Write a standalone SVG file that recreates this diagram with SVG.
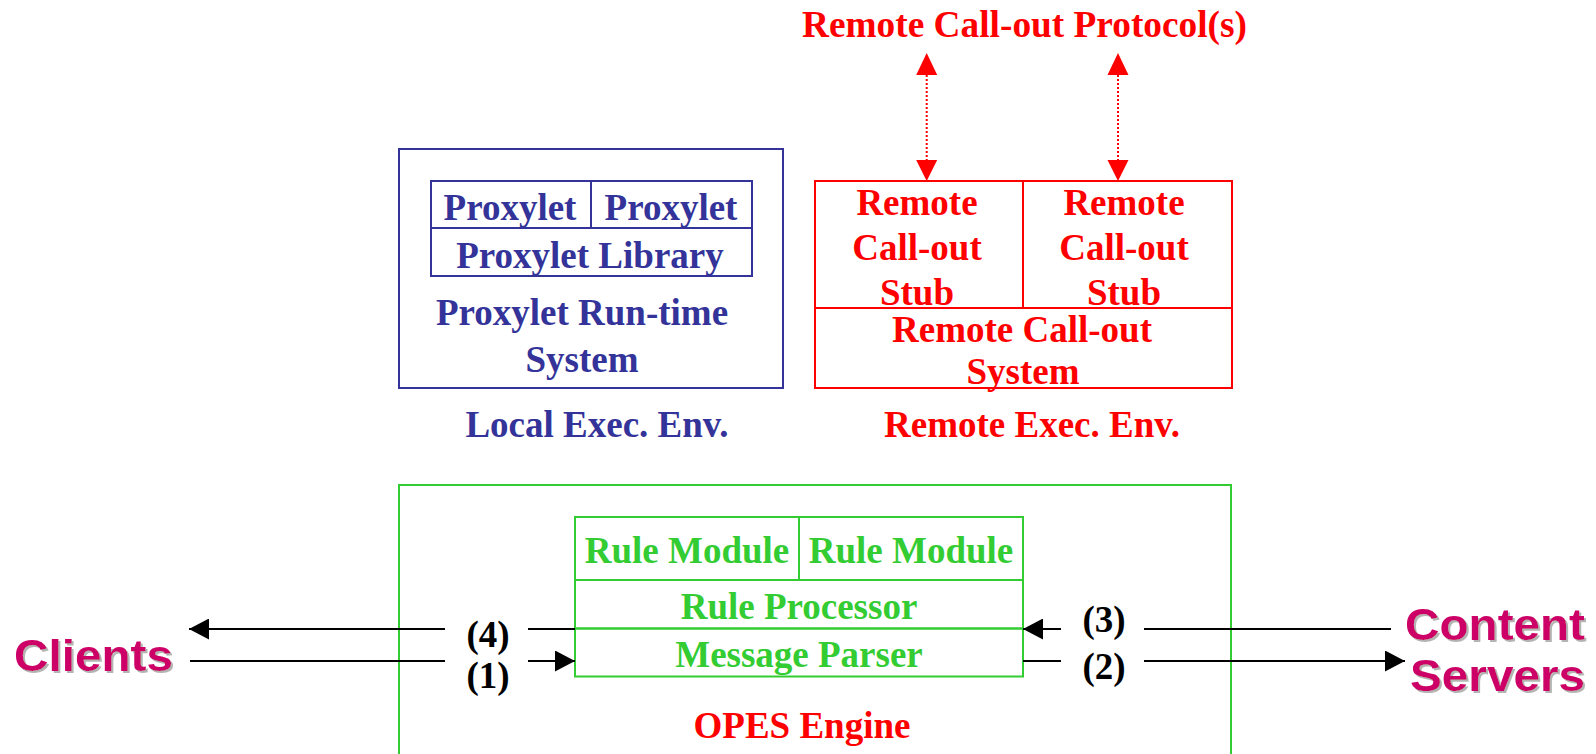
<svg xmlns="http://www.w3.org/2000/svg" width="1596" height="754" viewBox="0 0 1596 754">
<defs>
<style>
.t{font-family:"Liberation Serif","Times New Roman",serif;font-weight:bold;font-size:37px;text-anchor:middle}
.blue{fill:#333399}
.red{fill:#FF0000}
.green{fill:#33CC33}
.blk{fill:#000}
.bb{fill:none;stroke:#333399;stroke-width:2}
.rb{fill:none;stroke:#FF0000;stroke-width:2}
.gb{fill:none;stroke:#33CC33;stroke-width:2}
.ln{stroke:#000;stroke-width:2.2;fill:none}
.dot{stroke:#FF0000;stroke-width:2;stroke-dasharray:2 2;fill:none}
.ext{font-family:"Liberation Sans",Arial,sans-serif;font-weight:bold;font-size:45px;fill:#CC0066;filter:url(#shadow)}
</style>
<filter id="shadow" x="-10%" y="-20%" width="130%" height="150%">
<feOffset in="SourceAlpha" dx="2" dy="2" result="o"/>
<feFlood flood-color="#B4B4B4"/>
<feComposite in2="o" operator="in" result="s"/>
<feMerge><feMergeNode in="s"/><feMergeNode in="SourceGraphic"/></feMerge>
</filter>
<marker id="ah" markerWidth="20" markerHeight="21" refX="20" refY="10.5" orient="auto" markerUnits="userSpaceOnUse">
<path d="M0,0 L20,10.5 L0,21 Z" fill="#000"/>
</marker>
</defs>
<rect width="1596" height="754" fill="#fff"/>

<g id="title">
<text class="t red" x="1024.5" y="37" textLength="445" lengthAdjust="spacingAndGlyphs">Remote Call-out Protocol(s)</text>
</g>

<g id="local-exec-env">
<rect class="bb" x="399" y="149" width="384" height="239"/>
<text class="t blue" x="582" y="325">Proxylet Run-time</text>
<text class="t blue" x="582" y="372">System</text>
<text class="t blue" x="597" y="437">Local Exec. Env.</text>
</g>
<g id="proxylet-library">
<rect class="bb" x="431" y="228" width="321" height="48"/>
<text class="t blue" x="590" y="268">Proxylet Library</text>
</g>
<g id="proxylet-1">
<rect class="bb" x="431" y="181" width="160" height="47"/>
<text class="t blue" x="510" y="220">Proxylet</text>
</g>
<g id="proxylet-2">
<rect class="bb" x="591" y="181" width="161" height="47"/>
<text class="t blue" x="671" y="220">Proxylet</text>
</g>

<g id="remote-exec-env">
<text class="t red" x="1032" y="437">Remote Exec. Env.</text>
</g>
<g id="remote-callout-system">
<rect class="rb" x="815" y="308" width="417" height="80"/>
<text class="t red" x="1022" y="342">Remote Call-out</text>
<text class="t red" x="1023" y="384">System</text>
</g>
<g id="stub-1">
<rect class="rb" x="815" y="181" width="208" height="127"/>
<text class="t red" x="917" y="215">Remote</text>
<text class="t red" x="917" y="260">Call-out</text>
<text class="t red" x="917" y="305">Stub</text>
</g>
<g id="stub-2">
<rect class="rb" x="1023" y="181" width="209" height="127"/>
<text class="t red" x="1124" y="215">Remote</text>
<text class="t red" x="1124" y="260">Call-out</text>
<text class="t red" x="1124" y="305">Stub</text>
</g>

<g id="opes-engine">
<rect class="gb" x="399" y="485" width="832" height="290"/>
<text class="t red" x="802" y="738">OPES Engine</text>
</g>
<g id="rule-module-1">
<rect class="gb" x="575" y="517" width="224" height="63"/>
<text class="t green" x="687" y="563">Rule Module</text>
</g>
<g id="rule-module-2">
<rect class="gb" x="799" y="517" width="224" height="63"/>
<text class="t green" x="911" y="563">Rule Module</text>
</g>
<g id="rule-processor">
<rect class="gb" x="575" y="580" width="448" height="48.5"/>
<text class="t green" x="799" y="619">Rule Processor</text>
</g>
<g id="message-parser">
<rect class="gb" x="575" y="628.5" width="448" height="48"/>
<text class="t green" x="799" y="667">Message Parser</text>
</g>

<g id="clients">
<text class="ext" x="14" y="671" textLength="159" lengthAdjust="spacingAndGlyphs">Clients</text>
</g>
<g id="content-servers">
<text class="ext" x="1405" y="640" textLength="180" lengthAdjust="spacingAndGlyphs">Content</text>
<text class="ext" x="1410" y="691" textLength="175" lengthAdjust="spacingAndGlyphs">Servers</text>
</g>

<g id="connectors">
<line class="dot" x1="926.7" y1="75" x2="926.7" y2="160"/>
<line class="dot" x1="1118" y1="75" x2="1118" y2="160"/>
<path d="M916.2,75 L926.7,53 L937.2,75 Z" fill="#FF0000"/>
<path d="M916.2,160 L926.7,181 L937.2,160 Z" fill="#FF0000"/>
<path d="M1107.5,75 L1118,53 L1128.5,75 Z" fill="#FF0000"/>
<path d="M1107.5,160 L1118,181 L1128.5,160 Z" fill="#FF0000"/>

<line class="ln" x1="575" y1="629" x2="528" y2="629"/>
<line class="ln" x1="445" y1="629" x2="189" y2="629" marker-end="url(#ah)"/>
<line class="ln" x1="190" y1="661" x2="445" y2="661"/>
<line class="ln" x1="528" y1="661" x2="575" y2="661" marker-end="url(#ah)"/>
<line class="ln" x1="1391" y1="629" x2="1144" y2="629"/>
<line class="ln" x1="1061" y1="629" x2="1023" y2="629" marker-end="url(#ah)"/>
<line class="ln" x1="1023" y1="661" x2="1061" y2="661"/>
<line class="ln" x1="1144" y1="661" x2="1405" y2="661" marker-end="url(#ah)"/>

<text class="t blk" x="488" y="647">(4)</text>
<text class="t blk" x="488" y="688">(1)</text>
<text class="t blk" x="1104" y="632">(3)</text>
<text class="t blk" x="1104" y="679">(2)</text>
</g>
</svg>
